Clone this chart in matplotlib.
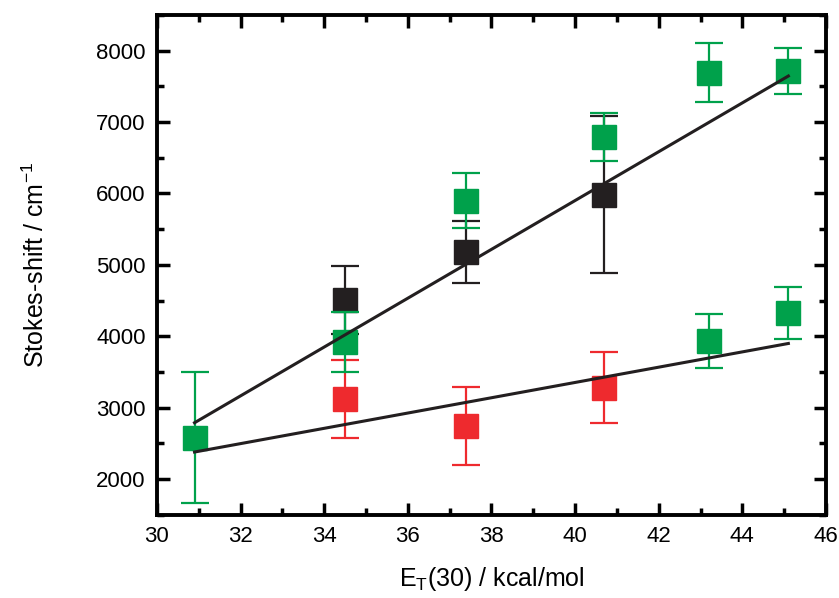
import numpy as np
import matplotlib.pyplot as plt
from matplotlib.ticker import MultipleLocator

plt.rcParams['font.family'] = ['Liberation Sans', 'DejaVu Sans']

# green points (two sets)
green_x = [30.9, 34.5, 37.4, 40.7, 43.2, 45.1, 43.2, 45.1]
green_y = [2580, 3920, 5900, 6790, 7690, 7720, 3930, 4325]
green_err = [920, 415, 380, 340, 415, 320, 380, 365]

# red points
red_x = [34.5, 37.4, 40.7]
red_y = [3120, 2745, 3280]
red_err = [550, 550, 500]

# black points
black_x = [34.5, 37.4, 40.7]
black_y = [4510, 5180, 5985]
black_err = [475, 430, 1105]

# linear fit lines (end points)
fit_x = [30.9, 45.1]
fit_upper = [2790, 7645]
fit_lower = [2380, 3900]

green = '#00a14b'
red = '#ee2a2e'
black = '#231f20'

fig = plt.figure(figsize=(8.39, 5.98), dpi=100)
ax = fig.add_axes([0.187, 0.139, 0.7975, 0.836])

ax.plot(fit_x, fit_upper, color=black, lw=2.2, zorder=4)
ax.plot(fit_x, fit_lower, color=black, lw=2.2, zorder=4)

eb = dict(fmt='s', ms=17, capsize=10, elinewidth=1.6, capthick=1.6)
ax.errorbar(red_x, red_y, yerr=red_err, color=red, ecolor=red, zorder=3, **eb)
ax.errorbar(black_x, black_y, yerr=black_err, color=black, ecolor=black, zorder=2, **eb)
ax.errorbar(green_x, green_y, yerr=green_err, color=green, ecolor=green, zorder=3, **eb)

ax.set_xlim(30, 46)
ax.set_ylim(1500, 8500)
ax.xaxis.set_major_locator(MultipleLocator(2))
ax.xaxis.set_minor_locator(MultipleLocator(1))
ax.yaxis.set_minor_locator(MultipleLocator(500))
ax.set_yticks(np.arange(2000, 8001, 1000))

ax.tick_params(which='both', direction='in', top=True, right=True,
               labelsize=16, width=2.5, pad=8)
ax.tick_params(which='major', length=9)
ax.tick_params(which='minor', length=5)
for s in ax.spines.values():
    s.set_linewidth(2.8)

ax.set_xlabel('E$_\\mathregular{T}$(30) / kcal/mol', fontsize=18, labelpad=13)
ax.set_ylabel('Stokes-shift / cm$^\\mathregular{-1}$', fontsize=18, labelpad=34)

fig.savefig('out.png', dpi=100)
